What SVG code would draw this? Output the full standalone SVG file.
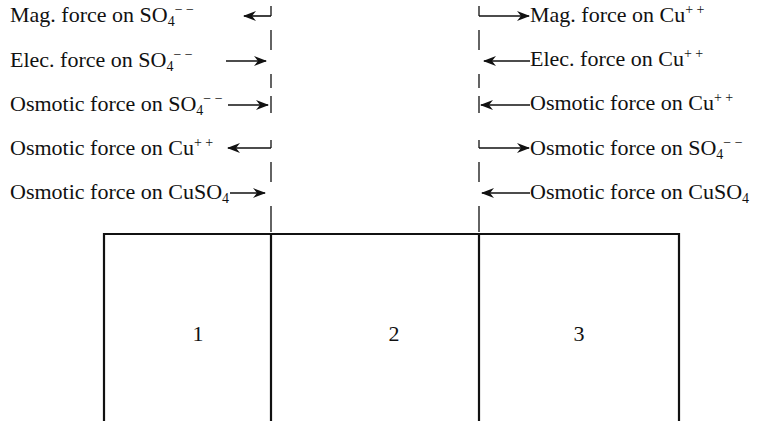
<svg xmlns="http://www.w3.org/2000/svg" width="768" height="421" viewBox="0 0 768 421">
<style>
text{font-family:"Liberation Serif","Times New Roman",serif;font-size:22px;fill:#111}
.s{font-size:14px}
.n{font-size:22px}
.ln{stroke:#111;stroke-width:1.6;fill:none}
.dl{stroke:#111;stroke-width:1.3;fill:none}
.box{stroke:#111;stroke-width:2.2;fill:none}
</style>
<defs>
<marker id="ah" viewBox="0 0 13 10" refX="12" refY="5" markerWidth="13" markerHeight="10" markerUnits="userSpaceOnUse" orient="auto">
<path d="M0,0 L13,5 L0,10 L4,5 Z" fill="#111"/>
</marker>
</defs>
<rect width="768" height="421" fill="#fff"/>
<g id="box">
<path class="box" d="M104,421 V234 H679 V421"/>
<path class="box" d="M271,234 V421 M479,234 V421"/>
</g>
<g id="cell1"><text class="n" x="198" y="341" text-anchor="middle">1</text></g>
<g id="cell2"><text class="n" x="394" y="341" text-anchor="middle">2</text></g>
<g id="cell3"><text class="n" x="579" y="341" text-anchor="middle">3</text></g>
<g id="labels-left">
<text x="10" y="22">Mag. force on SO<tspan class="s" dy="4">4</tspan><tspan class="s" dy="-12">− −</tspan></text>
<text x="10" y="67">Elec. force on SO<tspan class="s" dy="4">4</tspan><tspan class="s" dy="-12">− −</tspan></text>
<text x="10" y="111">Osmotic force on SO<tspan class="s" dy="4">4</tspan><tspan class="s" dy="-12">− −</tspan></text>
<text x="10" y="155">Osmotic force on Cu<tspan class="s" dy="-8">+ +</tspan></text>
<text x="10" y="199">Osmotic force on CuSO<tspan class="s" dy="4">4</tspan></text>
</g>
<g id="labels-right">
<text x="530" y="22">Mag. force on Cu<tspan class="s" dy="-8">+ +</tspan></text>
<text x="530" y="66">Elec. force on Cu<tspan class="s" dy="-8">+ +</tspan></text>
<text x="530" y="110">Osmotic force on Cu<tspan class="s" dy="-8">+ +</tspan></text>
<text x="530" y="155">Osmotic force on SO<tspan class="s" dy="4">4</tspan><tspan class="s" dy="-12">− −</tspan></text>
<text x="530" y="199">Osmotic force on CuSO<tspan class="s" dy="4">4</tspan></text>
</g>
<g id="connectors">
<path class="dl" d="M271,6 V16 M271,30 V50 M271,74 V88 M271,96 V113 M271,140 V148 M271,162 V182 M271,206 V232"/>
<path class="ln" d="M271,16 H244" marker-end="url(#ah)"/>
<path class="ln" d="M226,61 H266" marker-end="url(#ah)"/>
<path class="ln" d="M228,105 H268" marker-end="url(#ah)"/>
<path class="ln" d="M271,148 H228" marker-end="url(#ah)"/>
<path class="ln" d="M230,193 H265" marker-end="url(#ah)"/>
<path class="dl" d="M479,6 V16 M479,30 V50 M479,74 V88 M479,96 V113 M479,140 V148 M479,162 V182 M479,206 V232"/>
<path class="ln" d="M479,16 H529" marker-end="url(#ah)"/>
<path class="ln" d="M530,61 H484" marker-end="url(#ah)"/>
<path class="ln" d="M530,105 H481" marker-end="url(#ah)"/>
<path class="ln" d="M479,148 H529" marker-end="url(#ah)"/>
<path class="ln" d="M530,193 H482" marker-end="url(#ah)"/>
</g>
</svg>
